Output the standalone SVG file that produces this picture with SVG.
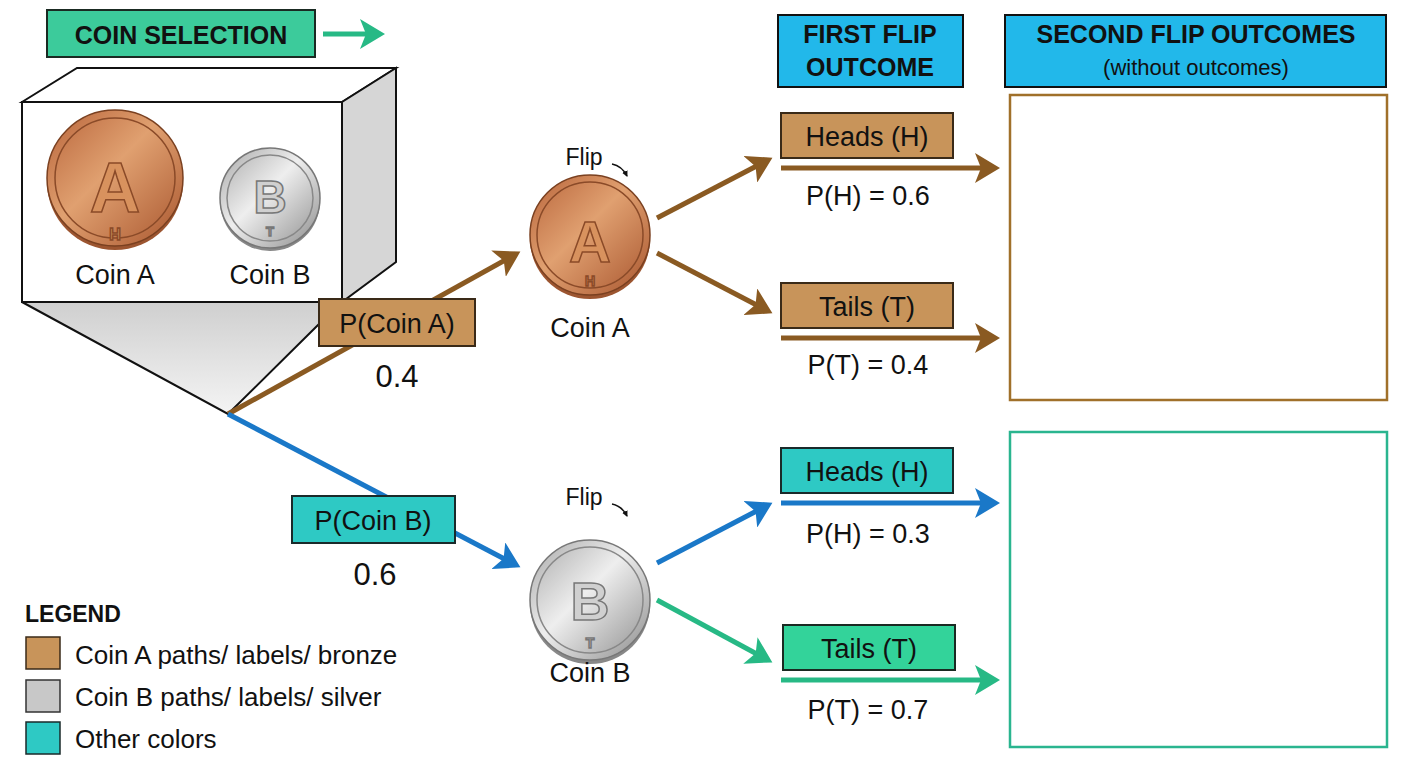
<svg xmlns="http://www.w3.org/2000/svg" width="1408" height="768" viewBox="0 0 1408 768">
<defs>
<style>
text{font-family:"Liberation Sans",Arial,sans-serif;fill:#111}
.lbl{font-size:27px;text-anchor:middle}
.big{font-size:31px;text-anchor:middle}
.flip{font-size:23px;text-anchor:middle}
.hdr{font-size:25px;font-weight:bold;text-anchor:middle}
.sub{font-size:22px;text-anchor:middle}
.leg{font-size:26px}
.bz{fill:#c8945a;stroke:#3a2a18;stroke-width:2}
.bl{stroke:#8a5a22;stroke-width:5;fill:none}
.blu{stroke:#1a78c8;stroke-width:5;fill:none}
.grn{stroke:#27b985;stroke-width:5;fill:none}
.la{font-weight:bold;text-anchor:middle;fill:#d8925e;stroke:#8a4a28;stroke-width:1.5}
.lb{font-weight:bold;text-anchor:middle;fill:#d0d0d0;stroke:#777;stroke-width:1.5}
</style>
<marker id="ab" markerWidth="6" markerHeight="6" refX="4" refY="3" orient="auto" markerUnits="strokeWidth"><path d="M0,0L5,3L0,6L1.2,3z" fill="#8a5a22"/></marker>
<marker id="au" markerWidth="6" markerHeight="6" refX="4" refY="3" orient="auto" markerUnits="strokeWidth"><path d="M0,0L5,3L0,6L1.2,3z" fill="#1a78c8"/></marker>
<marker id="ag" markerWidth="6" markerHeight="6" refX="4" refY="3" orient="auto" markerUnits="strokeWidth"><path d="M0,0L5,3L0,6L1.2,3z" fill="#27b985"/></marker>
<marker id="ak" markerWidth="8" markerHeight="8" refX="5" refY="4" orient="auto" markerUnits="userSpaceOnUse"><path d="M0,1L6,4L0,7z" fill="#111"/></marker>
<linearGradient id="bronze" x1="0" y1="0" x2="1" y2="1"><stop offset="0" stop-color="#b8643a"/><stop offset="0.45" stop-color="#e0a070"/><stop offset="1" stop-color="#a8552e"/></linearGradient>
<linearGradient id="silver" x1="0" y1="0" x2="1" y2="1"><stop offset="0" stop-color="#a8a8a8"/><stop offset="0.45" stop-color="#eeeeee"/><stop offset="1" stop-color="#8c8c8c"/></linearGradient>
<linearGradient id="gray" x1="0" y1="0" x2="0" y2="1"><stop offset="0" stop-color="#cfcfcf"/><stop offset="1" stop-color="#f4f4f4"/></linearGradient>
</defs>
<rect width="1408" height="768" fill="#fff"/>

<g id="title">
<rect x="47" y="10" width="268" height="47" fill="#3ccb9b" stroke="#1a2a22" stroke-width="2"/>
<text x="181" y="44" class="hdr">COIN SELECTION</text>
<path d="M323,34H380" stroke="#27b985" stroke-width="5" marker-end="url(#ag)" fill="none"/>
</g>

<g id="box">
<polygon points="22,302 228,414 318,325 342,302" fill="url(#gray)" stroke="#111" stroke-width="2"/>
<polygon points="22,102 77,68 396,68 342,102" fill="#fff" stroke="#111" stroke-width="2"/>
<polygon points="342,102 396,68 396,262 342,302" fill="#d6d6d6" stroke="#111" stroke-width="2"/>
<rect x="22" y="102" width="320" height="200" fill="#fff" stroke="#111" stroke-width="2"/>
<g id="coinA-big">
<circle cx="115" cy="182" r="68" fill="#9c5530"/>
<circle cx="115" cy="178" r="68" fill="url(#bronze)" stroke="#7a4020" stroke-width="1.5"/>
<circle cx="115" cy="178" r="60" fill="none" stroke="#8a4a28" stroke-width="1.5"/>
<text x="115" y="212" class="la" style="font-size:70px">A</text>
<text x="115" y="240" class="la" style="font-size:16px">H</text>
</g>
<g id="coinB-big">
<circle cx="270" cy="201" r="50" fill="#888"/>
<circle cx="270" cy="198" r="50" fill="url(#silver)" stroke="#777" stroke-width="1.5"/>
<circle cx="270" cy="198" r="43" fill="none" stroke="#888" stroke-width="1.5"/>
<text x="270" y="213" class="lb" style="font-size:46px">B</text>
<text x="270" y="236" class="lb" style="font-size:13px">T</text>
</g>
<text x="115" y="284" class="lbl">Coin A</text>
<text x="270" y="284" class="lbl">Coin B</text>
</g>

<g id="connectors">
<path d="M228,414L516,254" class="bl" marker-end="url(#ab)"/>
<path d="M228,414L516,565" class="blu" marker-end="url(#au)"/>
<path d="M657,218L768,160" class="bl" marker-end="url(#ab)"/>
<path d="M657,253L768,311" class="bl" marker-end="url(#ab)"/>
<path d="M781,168H995" class="bl" marker-end="url(#ab)"/>
<path d="M781,338H995" class="bl" marker-end="url(#ab)"/>
<path d="M657,563L768,505" class="blu" marker-end="url(#au)"/>
<path d="M657,600L768,660" class="grn" marker-end="url(#ag)"/>
<path d="M781,503H995" class="blu" marker-end="url(#au)"/>
<path d="M781,680H995" class="grn" marker-end="url(#ag)"/>
<path d="M612,164Q622,166 627,176" stroke="#111" stroke-width="1.5" fill="none" marker-end="url(#ak)"/>
<path d="M612,504Q622,506 627,516" stroke="#111" stroke-width="1.5" fill="none" marker-end="url(#ak)"/>
</g>

<g id="pA">
<rect x="319" y="299" width="156" height="47" class="bz"/>
<text x="397" y="333" class="lbl">P(Coin A)</text>
<text x="397" y="387" class="big">0.4</text>
</g>
<g id="pB">
<rect x="292" y="496" width="163" height="47" fill="#2ec9c4" stroke="#1a2a2a" stroke-width="2"/>
<text x="373" y="530" class="lbl">P(Coin B)</text>
<text x="375" y="585" class="big">0.6</text>
</g>

<g id="coinA-mid">
<circle cx="590" cy="239" r="60" fill="#9c5530"/>
<circle cx="590" cy="235" r="60" fill="url(#bronze)" stroke="#7a4020" stroke-width="1.5"/>
<circle cx="590" cy="235" r="53" fill="none" stroke="#8a4a28" stroke-width="1.5"/>
<text x="590" y="262" class="la" style="font-size:58px">A</text>
<text x="590" y="286" class="la" style="font-size:14px">H</text>
<text x="584" y="165" class="flip">Flip</text>
<text x="590" y="337" class="lbl">Coin A</text>
</g>
<g id="coinB-mid">
<circle cx="590" cy="604" r="60" fill="#888"/>
<circle cx="590" cy="600" r="60" fill="url(#silver)" stroke="#777" stroke-width="1.5"/>
<circle cx="590" cy="600" r="53" fill="none" stroke="#888" stroke-width="1.5"/>
<text x="590" y="620" class="lb" style="font-size:54px">B</text>
<text x="590" y="648" class="lb" style="font-size:14px">T</text>
<text x="584" y="505" class="flip">Flip</text>
<text x="590" y="682" class="lbl">Coin B</text>
</g>

<g id="headers">
<rect x="778" y="15" width="185" height="72" fill="#22b8ea" stroke="#111" stroke-width="2"/>
<text x="870" y="43" class="hdr">FIRST  FLIP</text>
<text x="870" y="76" class="hdr">OUTCOME</text>
<rect x="1005" y="15" width="381" height="72" fill="#22b8ea" stroke="#111" stroke-width="2"/>
<text x="1196" y="43" class="hdr">SECOND FLIP OUTCOMES</text>
<text x="1196" y="75" class="sub">(without outcomes)</text>
</g>

<g id="outA-H"><rect x="781" y="113" width="172" height="45" class="bz"/><text x="867" y="146" class="lbl">Heads (H)</text><text x="868" y="205" class="lbl">P(H) = 0.6</text></g>
<g id="outA-T"><rect x="781" y="283" width="172" height="45" class="bz"/><text x="867" y="316" class="lbl">Tails (T)</text><text x="868" y="374" class="lbl">P(T) = 0.4</text></g>
<g id="outB-H"><rect x="781" y="448" width="172" height="45" fill="#2ec9c4" stroke="#1a2a2a" stroke-width="2"/><text x="867" y="481" class="lbl">Heads (H)</text><text x="868" y="543" class="lbl">P(H) = 0.3</text></g>
<g id="outB-T"><rect x="783" y="625" width="172" height="45" fill="#33d39a" stroke="#1a2a22" stroke-width="2"/><text x="869" y="658" class="lbl">Tails (T)</text><text x="868" y="719" class="lbl">P(T) = 0.7</text></g>

<g id="second-A"><rect x="1010" y="95" width="377" height="305" fill="#fff" stroke="#a0702a" stroke-width="2.5"/></g>
<g id="second-B"><rect x="1010" y="432" width="377" height="315" fill="#fff" stroke="#2ab58f" stroke-width="2.5"/></g>

<g id="legend">
<text x="25" y="622" style="font-size:23px;font-weight:bold">LEGEND</text>
<rect x="26" y="637" width="34" height="32" fill="#c8945a" stroke="#3a2a18" stroke-width="1.5"/>
<text x="75" y="664" class="leg">Coin A paths/ labels/ bronze</text>
<rect x="26" y="680" width="34" height="32" fill="#c8c8c8" stroke="#333" stroke-width="1.5"/>
<text x="75" y="706" class="leg">Coin B paths/ labels/ silver</text>
<rect x="26" y="722" width="34" height="32" fill="#2ec9c4" stroke="#1a2a2a" stroke-width="1.5"/>
<text x="75" y="748" class="leg">Other colors</text>
</g>
</svg>
